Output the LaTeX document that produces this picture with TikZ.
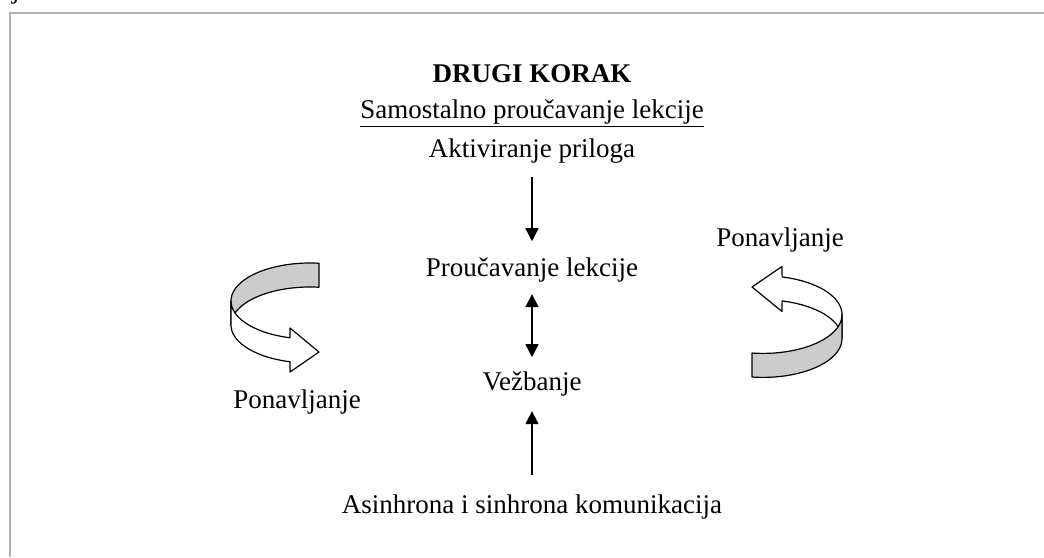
\documentclass[tikz,border=0pt]{standalone}
\usepackage{fontspec}
\setmainfont{Liberation Serif}
\usetikzlibrary{arrows.meta}

\tikzset{
  txt/.style={font=\fontsize{13.5}{16}\selectfont, anchor=base, inner sep=0pt},
  naslovtxt/.style={font=\fontsize{13.5}{16}\selectfont\bfseries, anchor=base, inner sep=0pt},
  vrh/.style={line width=0.75pt, -{Triangle[width=6.5pt,length=6.5pt]}},
  dvavrha/.style={line width=0.75pt, {Triangle[width=6.5pt,length=6.5pt]}-{Triangle[width=6.5pt,length=6.5pt]}},
  traka/.style={draw, line width=0.6pt, line join=round},
}

\begin{document}
\begin{tikzpicture}[x=0.5pt,y=-0.5pt]
  \useasboundingbox (0,0) rectangle (1044,557);
  \draw[black!30, line width=1pt] (10,557) -- (10,13) -- (1044,13);
  \draw
    (16,-2) node[txt] (j){j}
    (532,82) node[naslovtxt] (korak){DRUGI KORAK}
    (532,118) node[txt] (samo){\underline{Samostalno proučavanje lekcije}}
    (532,157) node[txt] (aktiv){Aktiviranje priloga}
    (532,276) node[txt] (prouc){Proučavanje lekcije}
    (532,390) node[txt] (vezb){Vežbanje}
    (532,513) node[txt] (komun){Asinhrona i sinhrona komunikacija}
    (297,408) node[txt] (ponl){Ponavljanje}
    (780,246) node[txt] (ponr){Ponavljanje};
  \begin{scope}[vrh]
    \draw[shorten <=7pt, shorten >=7.8pt] (aktiv) to (prouc);
    \draw[dvavrha, shorten <=6pt, shorten >=6.8pt] (prouc) to (vezb);
    \draw[shorten <=9.3pt, shorten >=7.5pt] (komun) to (vezb);
  \end{scope}
  % lijeva strelica: zadnji dio sivo, prednji bijelo
  \path[traka, fill=black!20]
    plot[variable=\t, domain=83.5:180, samples=30, smooth] ({310+79*cos(\t)},{301-38*sin(\t)})
    -- plot[variable=\t, domain=180:83.5, samples=30, smooth] ({310+79*cos(\t)},{325-38*sin(\t)}) -- cycle;
  \path[traka, fill=white]
    plot[variable=\t, domain=180:255.3, samples=30, smooth] ({310+79*cos(\t)},{301-38*sin(\t)})
    -- (290,328) -- (319,352) -- (290,372)
    -- plot[variable=\t, domain=255.3:180, samples=30, smooth] ({310+79*cos(\t)},{325-38*sin(\t)}) -- cycle;
  % desna strelica: zadnji dio bijelo, prednji sivo
  \path[traka, fill=white]
    plot[variable=\t, domain=0:76, samples=30, smooth] ({763+79*cos(\t)},{314.6-38.8*sin(\t)})
    -- (782,266.5) -- (752,287) -- (782,311.5)
    -- plot[variable=\t, domain=76:0, samples=30, smooth] ({763+79*cos(\t)},{338.6-38.8*sin(\t)}) -- cycle;
  \path[traka, fill=black!20]
    plot[variable=\t, domain=0:-98, samples=30, smooth] ({763+79*cos(\t)},{314.6-38.8*sin(\t)})
    -- plot[variable=\t, domain=-98:0, samples=30, smooth] ({763+79*cos(\t)},{338.6-38.8*sin(\t)}) -- cycle;
\end{tikzpicture}
\end{document}
